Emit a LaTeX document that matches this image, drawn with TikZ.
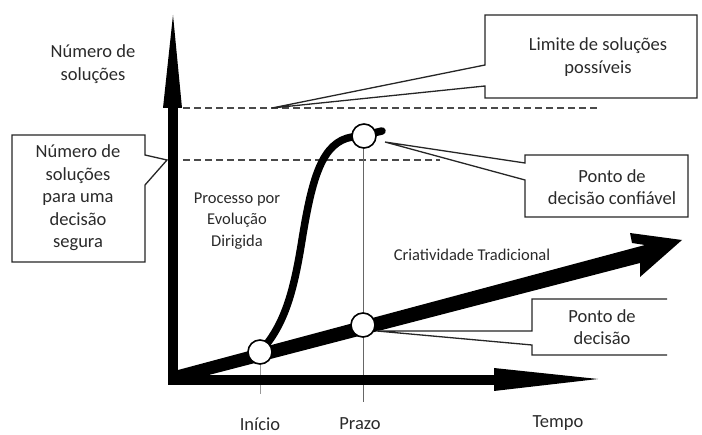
\documentclass[tikz,border=0pt]{standalone}
\usepackage{fontspec}
\setmainfont{Carlito}
\definecolor{txt}{HTML}{2A2A2A}
\definecolor{dsh}{HTML}{4A4A4A}
\begin{document}
\begin{tikzpicture}[x=1pt,y=-1pt,
  lbl/.style={text=txt, align=center, inner sep=0pt, font=\fontsize{18.5}{22.5}\selectfont},
  small/.style={text=txt, align=center, inner sep=0pt, font=\fontsize{16.5}{21.5}\selectfont},
  callout/.style={draw=black!85, line width=1.3pt, fill=white, line join=miter},
  guide/.style={draw=dsh, line width=2.6pt, dash pattern=on 7pt off 4pt},
  marker/.style={circle, draw=black, line width=1.6pt, fill=white, minimum size=24pt, inner sep=0pt},
  tick/.style={draw=black!60, line width=0.9pt},
  pointer/.style={draw=black!85, line width=1.3pt}]
\useasboundingbox (0,0) rectangle (702,435);

% guide lines
\draw[guide] (183,108) -- (598,108);
\draw[guide] (183,160) -- (440,160);

% ticks
\coordinate (tI) at (260,394);
\coordinate (tP) at (363,402);
\draw[tick, black!40] (260,352) -- (tI);
\draw[tick] (363,135) -- (tP);

% callouts
\coordinate (limTip) at (272,108);
\draw[callout] (485,15) -- (697,15) -- (697,98) -- (485,98) -- (485,86) -- (limTip) -- (485,65) -- cycle;
\coordinate (segTip) at (167,160);
\draw[callout] (12,135) -- (145,135) -- (145,155) -- (segTip) -- (145,185) -- (145,262) -- (12,262) -- cycle;

% axes
\draw[line width=10pt, line join=miter] (173,107) -- (173,380) -- (494,380);
\fill (163,108) -- (173,15) -- (182,108) -- cycle;
\fill (494,368) -- (598,379) -- (494,391) -- cycle;

% traditional creativity arrow
\fill (178,370) -- (645,245) -- (632,243) -- (630,233) -- (682,240) -- (640,277) -- (640,263) -- (178,383) -- cycle;

% directed evolution curve
\draw[line width=7.5pt, line cap=round] (260,352) .. controls (285,325) and (294,290) .. (302,240)
  .. controls (312,178) and (322,142) .. (352,137) -- (365,135) -- (382,131);

% markers
\node[marker] (inicio) at (260,352) {};
\node[marker] (prazo) at (363,325) {};
\node[marker] (conf) at (364,136) {};

% remaining callouts
\draw[callout] (525,155) -- (688,155) -- (688,217) -- (525,217) -- (525,180) -- (385,142) -- (525,163) -- cycle;
\draw[callout] (667,299) -- (532,299) -- (532,331) -- (377,331) -- (532,345) -- (532,355) -- (667,355);

% texts
\node[lbl] (ynum) at (93,64) {Número de\\soluções};
\node[lbl] (seg) at (78,198) {Número de\\soluções\\para uma\\decisão\\segura};
\node[lbl] (lim) at (598,57) {Limite de soluções\\possíveis};
\node[lbl] (pdc) at (612,187) {Ponto de\\decisão confiável};
\node[lbl] (pd) at (602,327) {Ponto de\\decisão};
\node[small] (proc) at (237,221) {Processo por\\Evolução\\Dirigida};
\node[small] (crit) at (472,255) {Criatividade Tradicional};
\node[lbl] (ini) at (260,424) {Início};
\node[lbl] (pra) at (360,424) {Prazo};
\node[lbl] (tempo) at (558,423) {Tempo};
\end{tikzpicture}
\end{document}
